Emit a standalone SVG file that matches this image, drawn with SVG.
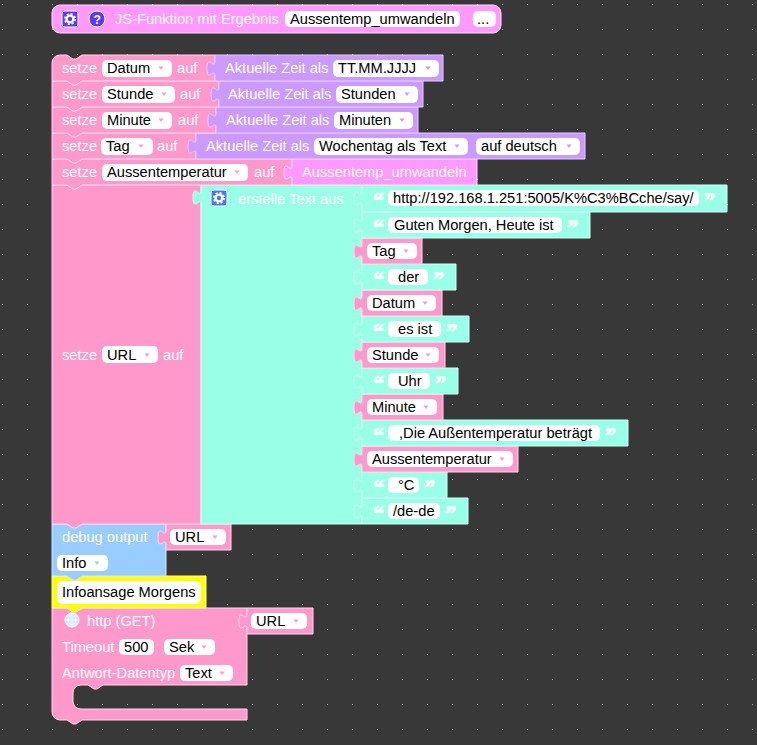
<svg xmlns="http://www.w3.org/2000/svg" width="757" height="745" viewBox="0 0 757 745">
<defs>
<pattern id="g" x="2" y="4" width="25" height="25" patternUnits="userSpaceOnUse"><rect width="1" height="1" fill="#aaa"/></pattern>
<g id="gear"><rect x="-8" y="-8" width="16" height="16" rx="3" stroke="#fff" stroke-width="1"/><circle r="3.4" fill="none" stroke="#fff" stroke-width="2.4"/><circle r="5.2" fill="none" stroke="#fff" stroke-width="1.6" stroke-dasharray="2.1 1.98"/></g>
<path id="arr" d="M-2.5 -1.5h5l-2.5 3.5z"/>
</defs>
<style>
text{font-family:"Liberation Sans",Arial,sans-serif;font-size:14.67px;fill:#fff}
text.k{fill:#000}
text.q{font-family:"Liberation Serif",serif;font-size:22.5px;font-weight:bold;stroke:#fff;stroke-width:.7}
.f{fill:#fff}
.p{fill:#f9c;stroke:#ffd6eb}
.m{fill:#f9f;stroke:#fdf}
.v{fill:#c9f;stroke:#e6ccff}
.t{fill:#99ffe6;stroke:#d0fff3}
.b{fill:#9cf;stroke:#d0e8ff}
.y{fill:#ff0;stroke:#ffffa0}
.ap{fill:#f9c}.av{fill:#c9f}.ab{fill:#9cf}
</style>
<rect width="757" height="745" fill="#383838"/>
<rect width="757" height="745" fill="url(#g)"/>
<g id="connectors"></g>

<g id="js-funktion"><rect class="m" x="52" y="5" width="449" height="28" rx="8"/><use href="#gear" x="70" y="19" fill="#5a3cf0"/><circle cx="97" cy="19" r="8" fill="#5a3cf0" stroke="#fff"/><text x="93.5" y="24" style="font-weight:bold;font-size:12px">?</text><text x="115" y="24">JS-Funktion mit Ergebnis</text><rect class="f" x="285" y="11" width="175" height="16" rx="5"/><text class="k" x="290" y="24">Aussentemp_umwandeln</text><rect class="f" x="473" y="11" width="23" height="16" rx="5"/><text class="k" x="477" y="24">...</text></g>

<g id="http"><path class="p" d="M52 608H67l6 4h3l6 -4H247V685H103l-6 4h-3l-6 -4H81a8 8 0 0 0 -8 8V701a8 8 0 0 0 8 8H247V720H82l-6 4h-3l-6 -4H60a8 8 0 0 1 -8 -8z"/><circle cx="72" cy="620" r="7" fill="#cfe6ff" stroke="#fff"/><path d="M65 620h14M72 613v14M67 616h10M67 624h10" stroke="#f4f8ff" fill="none"/><ellipse cx="72" cy="620" rx="3.5" ry="7" fill="none" stroke="#f4f8ff"/><text x="87" y="626">http (GET)</text><text x="62" y="652">Timeout</text><rect class="f" x="119" y="639" width="35" height="16" rx="5"/><text class="k" x="124" y="652">500</text><rect class="f" x="164" y="639" width="51" height="16" rx="5"/><text class="k" x="169" y="652">Sek</text><use href="#arr" x="204" y="647" class="ap"/><text x="62" y="678">Antwort-Datentyp</text><rect class="f" x="180" y="665" width="53" height="16" rx="5"/><text class="k" x="185" y="678">Text</text><use href="#arr" x="222" y="673" class="ap"/></g>
<g id="http-url"><path class="p" d="M247 608H313V634H247V629c0 -10 -8 8 -8 -7.5s8 2.5 8 -7.5z"/><rect class="f" x="251" y="613" width="56" height="16" rx="5"/><text class="k" x="256" y="626">URL</text><use href="#arr" x="296" y="621" class="ap"/></g>

<g id="kommentar"><path class="y" d="M52 576H67l6 4h3l6 -4H206V608H82l-6 4h-3l-6 -4H52z"/><rect class="f" x="57" y="581" width="144" height="23" rx="5"/><text class="k" x="62" y="597">Infoansage Morgens</text></g>

<g id="debug"><path class="b" d="M52 524H67l6 4h3l6 -4H166V576H82l-6 4h-3l-6 -4H52z"/><text x="62" y="542">debug output</text><rect class="f" x="57" y="555" width="51" height="16" rx="5"/><text class="k" x="62" y="568">Info</text><use href="#arr" x="97" y="563" class="ab"/></g>
<g id="debug-url"><path class="p" d="M166 524H231V550H166V545c0 -10 -8 8 -8 -7.5s8 2.5 8 -7.5z"/><rect class="f" x="170" y="529" width="56" height="16" rx="5"/><text class="k" x="175" y="542">URL</text><use href="#arr" x="215" y="537" class="ap"/></g>

<g id="setze-url"><path class="p" d="M52 185H67l6 4h3l6 -4H201V524H82l-6 4h-3l-6 -4H52z"/><text x="62" y="360">setze</text><rect class="f" x="102" y="346" width="56" height="17" rx="5"/><text class="k" x="107" y="360">URL</text><use href="#arr" x="147" y="355" class="ap"/><text x="163" y="360">auf</text></g>
<g id="erstelle-text"><path class="t" d="M201 185H362V524H201V205c0 -10 -8 8 -8 -7.5s8 2.5 8 -7.5z"/><use href="#gear" x="219" y="198" fill="#4a78f5"/><text x="238" y="204">erstelle Text aus</text></g>

<g id="t-dede"><path class="t" d="M362 498H468V524H362V519c0 -10 -8 8 -8 -7.5s8 2.5 8 -7.5z"/><text class="q" x="373" y="521">“</text><rect class="f" x="388" y="503" width="52" height="16" rx="5"/><text class="k" x="393" y="516">/de-de</text><text class="q" x="445" y="521">”</text></g>
<g id="t-c"><path class="t" d="M362 472H447V498H362V493c0 -10 -8 8 -8 -7.5s8 2.5 8 -7.5z"/><text class="q" x="373" y="495">“</text><rect class="f" x="388" y="477" width="31" height="16" rx="5"/><text class="k" x="398" y="490">°C</text><text class="q" x="424" y="495">”</text></g>
<g id="v-aussen"><path class="p" d="M362 446H518V472H362V467c0 -10 -8 8 -8 -7.5s8 2.5 8 -7.5z"/><rect class="f" x="367" y="451" width="146" height="16" rx="5"/><text class="k" x="372" y="464">Aussentemperatur</text><use href="#arr" x="502" y="459" class="ap"/></g>
<g id="t-die"><path class="t" d="M362 420H628V446H362V441c0 -10 -8 8 -8 -7.5s8 2.5 8 -7.5z"/><text class="q" x="373" y="443">“</text><rect class="f" x="388" y="425" width="212" height="16" rx="5"/><text class="k" x="399" y="438">,Die Außentemperatur beträgt</text><text class="q" x="605" y="443">”</text></g>
<g id="v-minute"><path class="p" d="M362 394H443V420H362V415c0 -10 -8 8 -8 -7.5s8 2.5 8 -7.5z"/><rect class="f" x="367" y="399" width="70" height="16" rx="5"/><text class="k" x="372" y="412">Minute</text><use href="#arr" x="426" y="407" class="ap"/></g>
<g id="t-uhr"><path class="t" d="M362 368H458V394H362V389c0 -10 -8 8 -8 -7.5s8 2.5 8 -7.5z"/><text class="q" x="373" y="391">“</text><rect class="f" x="388" y="373" width="42" height="16" rx="5"/><text class="k" x="398" y="386">Uhr</text><text class="q" x="435" y="391">”</text></g>
<g id="v-stunde"><path class="p" d="M362 342H445V368H362V363c0 -10 -8 8 -8 -7.5s8 2.5 8 -7.5z"/><rect class="f" x="367" y="347" width="72" height="16" rx="5"/><text class="k" x="372" y="360">Stunde</text><use href="#arr" x="428" y="355" class="ap"/></g>
<g id="t-esist"><path class="t" d="M362 316H469V342H362V337c0 -10 -8 8 -8 -7.5s8 2.5 8 -7.5z"/><text class="q" x="373" y="339">“</text><rect class="f" x="388" y="321" width="53" height="16" rx="5"/><text class="k" x="398" y="334">es ist</text><text class="q" x="446" y="339">”</text></g>
<g id="v-datum"><path class="p" d="M362 290H442V316H362V311c0 -10 -8 8 -8 -7.5s8 2.5 8 -7.5z"/><rect class="f" x="367" y="295" width="69" height="16" rx="5"/><text class="k" x="372" y="308">Datum</text><use href="#arr" x="425" y="303" class="ap"/></g>
<g id="t-der"><path class="t" d="M362 264H456V290H362V285c0 -10 -8 8 -8 -7.5s8 2.5 8 -7.5z"/><text class="q" x="373" y="287">“</text><rect class="f" x="388" y="269" width="40" height="16" rx="5"/><text class="k" x="398" y="282">der</text><text class="q" x="433" y="287">”</text></g>
<g id="v-tag"><path class="p" d="M362 238H422V264H362V259c0 -10 -8 8 -8 -7.5s8 2.5 8 -7.5z"/><rect class="f" x="367" y="243" width="50" height="16" rx="5"/><text class="k" x="372" y="256">Tag</text><use href="#arr" x="406" y="251" class="ap"/></g>
<g id="t-guten"><path class="t" d="M362 212H590V238H362V233c0 -10 -8 8 -8 -7.5s8 2.5 8 -7.5z"/><text class="q" x="373" y="235">“</text><rect class="f" x="388" y="217" width="174" height="16" rx="5"/><text class="k" x="394" y="230">Guten Morgen, Heute ist</text><text class="q" x="567" y="235">”</text></g>
<g id="t-http"><path class="t" d="M362 185H727V212H362V206c0 -10 -8 8 -8 -7.5s8 2.5 8 -7.5z"/><text class="q" x="373" y="208">“</text><rect class="f" x="388" y="190" width="311" height="16" rx="5"/><text class="k" x="393" y="203">http://192.168.1.251:5005/K%C3%BCche/say/</text><text class="q" x="704" y="208">”</text></g>

<g id="setze-aussen"><path class="p" d="M52 159H67l6 4h3l6 -4H292V185H82l-6 4h-3l-6 -4H52z"/><text x="62" y="177">setze</text><rect class="f" x="102" y="164" width="146" height="17" rx="5"/><text class="k" x="107" y="177">Aussentemperatur</text><use href="#arr" x="237" y="172" class="ap"/><text x="254" y="177">auf</text></g>
<g id="w-aussen"><path class="m" d="M292 159H477V185H292V180c0 -10 -8 8 -8 -7.5s8 2.5 8 -7.5z"/><text x="302" y="177">Aussentemp_umwandeln</text></g>
<g id="setze-tag"><path class="p" d="M52 133H67l6 4h3l6 -4H196V159H82l-6 4h-3l-6 -4H52z"/><text x="62" y="151">setze</text><rect class="f" x="101" y="138" width="52" height="17" rx="5"/><text class="k" x="106" y="151">Tag</text><use href="#arr" x="141" y="146" class="ap"/><text x="157" y="151">auf</text></g>
<g id="w-tag"><path class="v" d="M196 133H585V159H196V154c0 -10 -8 8 -8 -7.5s8 2.5 8 -7.5z"/><text x="206" y="151">Aktuelle Zeit als</text><rect class="f" x="314" y="138" width="154" height="17" rx="5"/><text class="k" x="319" y="151">Wochentag als Text</text><use href="#arr" x="457" y="146" class="av"/><rect class="f" x="476" y="138" width="104" height="17" rx="5"/><text class="k" x="481" y="151">auf deutsch</text><use href="#arr" x="569" y="146" class="av"/></g>
<g id="setze-minute"><path class="p" d="M52 107H67l6 4h3l6 -4H216V133H82l-6 4h-3l-6 -4H52z"/><text x="62" y="125">setze</text><rect class="f" x="102" y="112" width="70" height="17" rx="5"/><text class="k" x="107" y="125">Minute</text><use href="#arr" x="161" y="120" class="ap"/><text x="178" y="125">auf</text></g>
<g id="w-minute"><path class="v" d="M216 107H418V133H216V128c0 -10 -8 8 -8 -7.5s8 2.5 8 -7.5z"/><text x="226" y="125">Aktuelle Zeit als</text><rect class="f" x="334" y="112" width="79" height="17" rx="5"/><text class="k" x="339" y="125">Minuten</text><use href="#arr" x="402" y="120" class="av"/></g>
<g id="setze-stunde"><path class="p" d="M52 81H67l6 4h3l6 -4H219V107H82l-6 4h-3l-6 -4H52z"/><text x="62" y="99">setze</text><rect class="f" x="102" y="86" width="73" height="17" rx="5"/><text class="k" x="107" y="99">Stunde</text><use href="#arr" x="164" y="94" class="ap"/><text x="180" y="99">auf</text></g>
<g id="w-stunde"><path class="v" d="M219 81H423V107H219V102c0 -10 -8 8 -8 -7.5s8 2.5 8 -7.5z"/><text x="228" y="99">Aktuelle Zeit als</text><rect class="f" x="336" y="86" width="82" height="17" rx="5"/><text class="k" x="341" y="99">Stunden</text><use href="#arr" x="407" y="94" class="av"/></g>
<g id="setze-datum"><path class="p" d="M52 63a8 8 0 0 1 8 -8H67l6 4h3l6 -4H215V81H82l-6 4h-3l-6 -4H52z"/><text x="62" y="73">setze</text><rect class="f" x="102" y="60" width="70" height="17" rx="5"/><text class="k" x="107" y="73">Datum</text><use href="#arr" x="161" y="68" class="ap"/><text x="177" y="73">auf</text></g>
<g id="w-datum"><path class="v" d="M215 55H443V81H215V76c0 -10 -8 8 -8 -7.5s8 2.5 8 -7.5z"/><text x="225" y="73">Aktuelle Zeit als</text><rect class="f" x="333" y="60" width="106" height="17" rx="5"/><text class="k" x="338" y="73">TT.MM.JJJJ</text><use href="#arr" x="428" y="68" class="av"/></g>
</svg>
